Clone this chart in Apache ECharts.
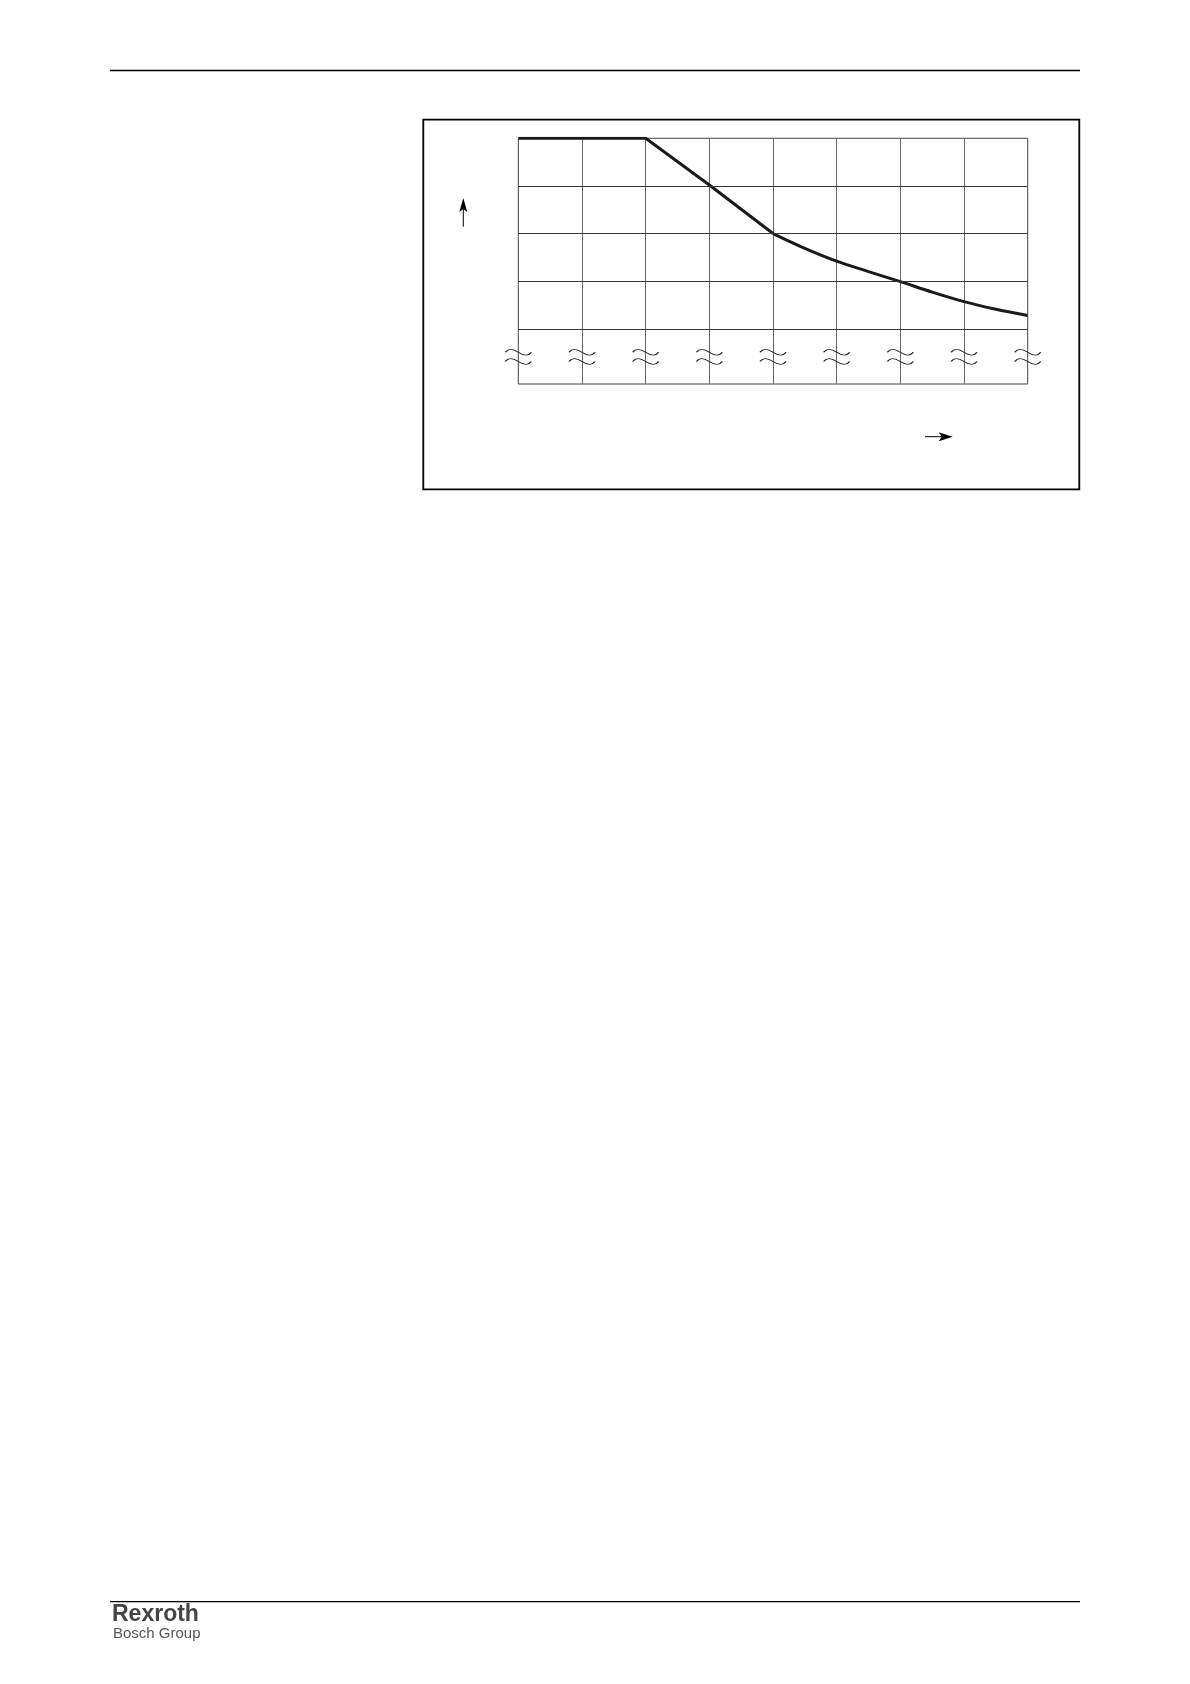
<!DOCTYPE html>
<html>
<head>
<meta charset="utf-8">
<script src="https://cdn.jsdelivr.net/npm/echarts/dist/echarts.min.js"></script>
<style>
  html, body { margin: 0; padding: 0; background: #fff; }
  #chart { width: 1190px; height: 1684px; }
</style>
</head>
<body>
<div id="chart"></div>
<script>
// ---- data ----
const xMin = 0;
const xMax = 8;
const yMin = -1.16;
const yMax = 4;
const yGridLines = [0, 1, 2, 3];
// straight part of the characteristic (flat, then linear drop)
const straightX = [0, 2, 3, 4];
const straightY = [4, 4, 3.02, 2.0];
// curved part of the characteristic
const curveX = [4, 4.5, 5, 5.5, 6, 6.5, 7, 7.5, 8];
const curveY = [2.0, 1.69, 1.42, 1.20, 0.99, 0.77, 0.57, 0.41, 0.28];
// axis-break marks on every vertical grid line
const breakX = [0, 1, 2, 3, 4, 5, 6, 7, 8];
const breakY = -0.59;
const footerBrand = 'Rexroth';
const footerSub = 'Bosch Group';

const pair = (xs, ys) => xs.map((x, i) => [x, ys[i]]);

const wavePath = 'path://M0,4 C3,0 7,0 13,4 C19,8 23,8 26,4 M0,13.5 C3,9.5 7,9.5 13,13.5 C19,17.5 23,17.5 26,13.5';

const chart = echarts.init(document.getElementById('chart'), null, { renderer: 'canvas' });

chart.setOption({
  animation: false,
  backgroundColor: '#ffffff',
  grid: {
    left: 518.3, right: 162.3, top: 138.3, bottom: 1300,
    show: true, borderColor: '#444', borderWidth: 1, backgroundColor: 'transparent'
  },
  xAxis: {
    type: 'value', min: xMin, max: xMax, interval: 1,
    axisLine: { show: false }, axisTick: { show: false }, axisLabel: { show: false },
    splitLine: { show: true, lineStyle: { color: '#666', width: 1 } }
  },
  yAxis: {
    type: 'value', min: yMin, max: yMax,
    axisLine: { show: false }, axisTick: { show: false }, axisLabel: { show: false },
    splitLine: { show: false }
  },
  series: [
    {
      type: 'line', data: [], silent: true,
      markLine: {
        silent: true, symbol: ['none', 'none'], label: { show: false },
        lineStyle: { type: 'solid', color: '#333', width: 1 },
        data: yGridLines.map(v => ({ yAxis: v }))
      }
    },
    {
      type: 'scatter', data: breakX.map(x => [x, breakY]), silent: true,
      symbol: wavePath, symbolSize: [26, 15],
      itemStyle: { color: 'rgba(0,0,0,0)', borderColor: '#222', borderWidth: 1.1, opacity: 1 }
    },
    {
      type: 'line', data: pair(straightX, straightY), showSymbol: false, silent: true,
      lineStyle: { color: '#1a1a1a', width: 3 }
    },
    {
      type: 'line', data: pair(curveX, curveY), showSymbol: false, silent: true, smooth: 0.3,
      lineStyle: { color: '#1a1a1a', width: 3 }
    }
  ],
  graphic: [
    // header rule
    { type: 'line', shape: { x1: 110, y1: 70.5, x2: 1080, y2: 70.5 }, style: { stroke: '#000', lineWidth: 1.3 } },
    // frame around the diagram
    { type: 'rect', shape: { x: 423.3, y: 119.7, width: 656, height: 369.6 }, style: { fill: 'none', stroke: '#000', lineWidth: 1.8 } },
    // vertical axis arrow
    { type: 'line', shape: { x1: 463.3, y1: 226.7, x2: 463.3, y2: 204 }, style: { stroke: '#000', lineWidth: 1 } },
    { type: 'polygon', shape: { points: [[463.3, 198], [459.3, 212], [463.3, 209], [467.3, 212]] }, style: { fill: '#000' } },
    // horizontal axis arrow
    { type: 'line', shape: { x1: 925, y1: 436.7, x2: 945, y2: 436.7 }, style: { stroke: '#000', lineWidth: 1 } },
    { type: 'polygon', shape: { points: [[952.7, 436.7], [938.7, 432.2], [941.7, 436.7], [938.7, 441.2]] }, style: { fill: '#000' } },
    // footer rule and brand
    { type: 'line', shape: { x1: 110, y1: 1601.7, x2: 1080, y2: 1601.7 }, style: { stroke: '#000', lineWidth: 1.3 } },
    { type: 'text', left: 112, top: 1603, style: { text: footerBrand, font: 'bold 23px "Liberation Sans", Arial, sans-serif', fill: '#444' } },
    { type: 'text', left: 113, top: 1626, style: { text: footerSub, font: '15px "Liberation Sans", Arial, sans-serif', fill: '#555' } }
  ]
});
</script>
</body>
</html>
